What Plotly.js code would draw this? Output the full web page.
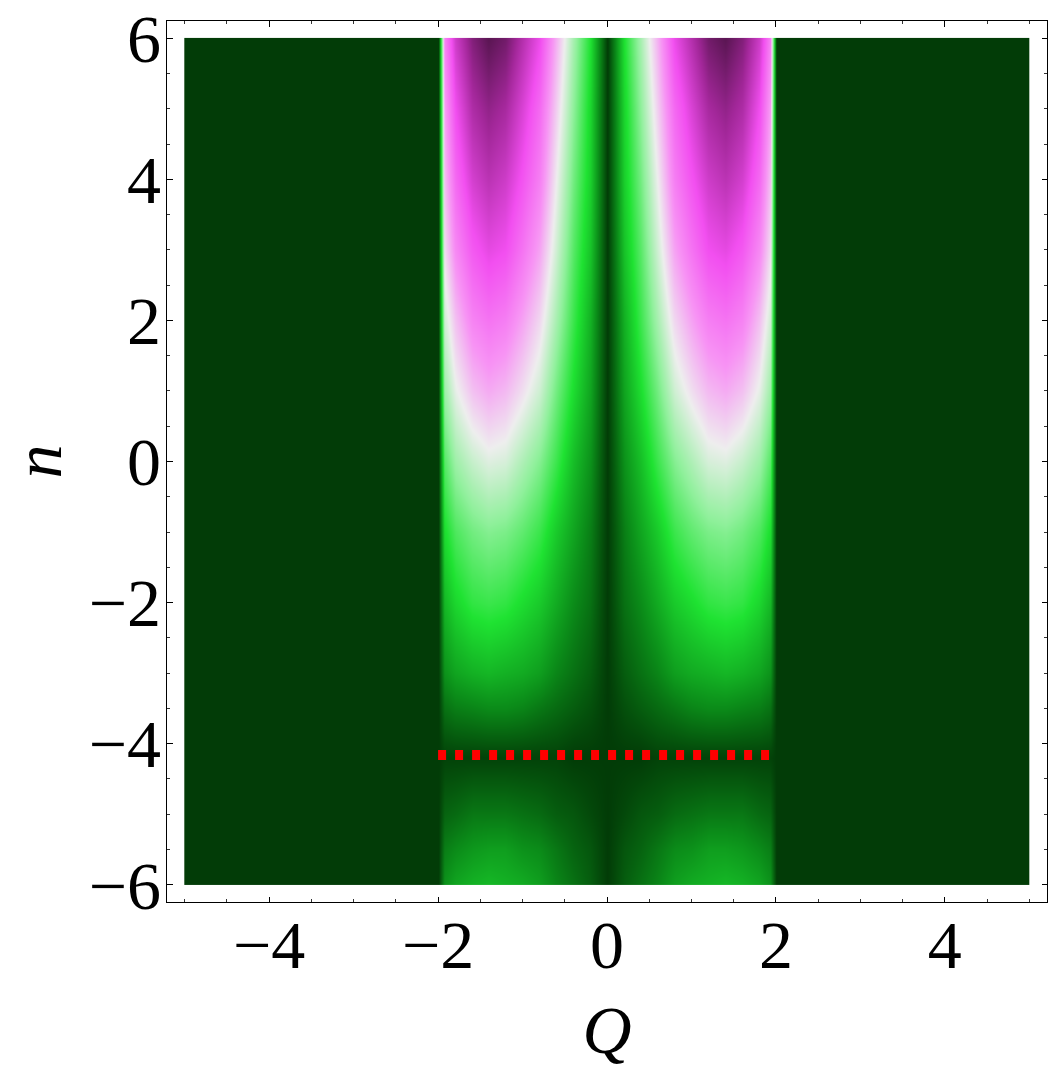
<!DOCTYPE html>
<html>
<head>
<meta charset="utf-8">
<script src="https://cdn.plot.ly/plotly-3.0.1.min.js"></script>
<style>html,body{margin:0;padding:0;background:#fff;}#plot{width:1050px;height:1068px;}</style>
</head>
<body>
<div id="plot"></div>
<script>
// Q grid (columns) and n grid (rows)
const Q = [-5, -4.99, -2.0, -1.93, -1.8, -1.6, -1.4, -1.2, -1.0, -0.8, -0.6, -0.4, -0.2, 0,
           0.2, 0.4, 0.6, 0.8, 1.0, 1.2, 1.4, 1.6, 1.8, 1.93, 2.0, 4.99, 5];
const n = [-6, -5.99, -5.5, -5, -4.2, -3.5, -3, -2, -1, 0, 1, 2, 3, 4, 5, 5.99, 6];
// density values (rows follow n, columns follow Q)
const density = [
 [0,0,0, 0.13,0.16,0.18,0.19,0.18,0.17,0.15,0.11,0.08,0.05, 0, 0.05,0.08,0.11,0.15,0.17,0.18,0.19,0.18,0.16,0.13, 0,0,0],
 [0,0,0, 0.13,0.16,0.18,0.19,0.18,0.17,0.15,0.11,0.08,0.05, 0, 0.05,0.08,0.11,0.15,0.17,0.18,0.19,0.18,0.16,0.13, 0,0,0],
 [0,0,0, 0.10,0.12,0.14,0.15,0.15,0.13,0.12,0.09,0.06,0.04, 0, 0.04,0.06,0.09,0.12,0.13,0.15,0.15,0.14,0.12,0.10, 0,0,0],
 [0,0,0, 0.06,0.07,0.09,0.09,0.09,0.08,0.07,0.05,0.04,0.02, 0, 0.02,0.04,0.05,0.07,0.08,0.09,0.09,0.09,0.07,0.06, 0,0,0],
 [0,0,0, 0.01,0.01,0.01,0.01,0.01,0.01,0.01,0.01,0.00,0.00, 0, 0.00,0.00,0.01,0.01,0.01,0.01,0.01,0.01,0.01,0.01, 0,0,0],
 [0,0,0, 0.08,0.10,0.11,0.12,0.12,0.11,0.09,0.07,0.05,0.03, 0, 0.03,0.05,0.07,0.09,0.11,0.12,0.12,0.11,0.10,0.08, 0,0,0],
 [0,0,0, 0.13,0.16,0.18,0.19,0.18,0.17,0.15,0.11,0.08,0.05, 0, 0.05,0.08,0.11,0.15,0.17,0.18,0.19,0.18,0.16,0.13, 0,0,0],
 [0,0,0, 0.19,0.24,0.28,0.29,0.28,0.25,0.22,0.17,0.12,0.08, 0, 0.08,0.12,0.17,0.22,0.25,0.28,0.29,0.28,0.24,0.19, 0,0,0],
 [0,0,0, 0.25,0.31,0.35,0.37,0.36,0.33,0.29,0.22,0.16,0.10, 0, 0.10,0.16,0.22,0.29,0.33,0.36,0.37,0.35,0.31,0.25, 0,0,0],
 [0,0,0, 0.32,0.40,0.45,0.48,0.47,0.42,0.37,0.29,0.20,0.13, 0, 0.13,0.20,0.29,0.37,0.42,0.47,0.48,0.45,0.40,0.32, 0,0,0],
 [0,0,0, 0.40,0.49,0.56,0.59,0.57,0.52,0.46,0.35,0.25,0.16, 0, 0.16,0.25,0.35,0.46,0.52,0.57,0.59,0.56,0.49,0.40, 0,0,0],
 [0,0,0, 0.46,0.56,0.65,0.68,0.66,0.60,0.53,0.41,0.29,0.18, 0, 0.18,0.29,0.41,0.53,0.60,0.66,0.68,0.65,0.56,0.46, 0,0,0],
 [0,0,0, 0.52,0.64,0.73,0.77,0.75,0.68,0.60,0.46,0.32,0.21, 0, 0.21,0.32,0.46,0.60,0.68,0.75,0.77,0.73,0.64,0.52, 0,0,0],
 [0,0,0, 0.56,0.70,0.80,0.84,0.81,0.74,0.66,0.50,0.35,0.23, 0, 0.23,0.35,0.50,0.66,0.74,0.81,0.84,0.80,0.70,0.56, 0,0,0],
 [0,0,0, 0.60,0.75,0.86,0.90,0.87,0.79,0.70,0.54,0.38,0.24, 0, 0.24,0.38,0.54,0.70,0.79,0.87,0.90,0.86,0.75,0.60, 0,0,0],
 [0,0,0, 0.65,0.81,0.92,0.97,0.94,0.85,0.76,0.58,0.41,0.26, 0, 0.26,0.41,0.58,0.76,0.85,0.94,0.97,0.92,0.81,0.65, 0,0,0],
 [0,0,0, 0.65,0.81,0.92,0.97,0.94,0.85,0.76,0.58,0.41,0.26, 0, 0.26,0.41,0.58,0.76,0.85,0.94,0.97,0.92,0.81,0.65, 0,0,0]
];
// red dotted marker line
const lineQ = [-2.0, 1.98];
const lineN = [-4.16, -4.16];
const xTickVals = [-4, -2, 0, 2, 4];
const yTickVals = [-6, -4, -2, 0, 2, 4, 6];

const colorscale = [
  [0.00, '#023c07'],
  [0.12, '#0b8c19'],
  [0.26, '#1fe332'],
  [0.38, '#8ef09a'],
  [0.50, '#eeeeee'],
  [0.62, '#f794f4'],
  [0.75, '#f24ff0'],
  [0.88, '#a22799'],
  [1.00, '#43103c']
];

const traces = [
  {type: 'heatmap', x: Q, y: n, z: density, zmin: 0, zmax: 1, zsmooth: 'best',
   colorscale: colorscale, showscale: false, hoverinfo: 'skip'},
  {type: 'scatter', mode: 'lines', x: lineQ, y: lineN,
   line: {color: '#ff0000', width: 10, dash: '8px,9px'}, hoverinfo: 'skip'}
];

const serif = '"Times New Roman", "Liberation Serif", Times, serif';
const tickFont = {family: serif, size: 68, color: '#000'};
const axisCommon = {
  showgrid: false, zeroline: false, showline: true, linecolor: '#000', linewidth: 1.3,
  mirror: 'allticks', ticks: 'inside', ticklen: 5.5, tickwidth: 1, tickcolor: '#000',
  tickfont: tickFont,
  minor: {dtick: 0.5, ticks: 'inside', ticklen: 3, tickwidth: 1, tickcolor: '#333', showgrid: false}
};

const layout = {
  width: 1050, height: 1068,
  margin: {l: 167, r: 2.5, t: 21, b: 165.5},
  paper_bgcolor: '#fff', plot_bgcolor: '#fff',
  showlegend: false,
  xaxis: Object.assign({}, axisCommon, {
    range: [-5.21, 5.21], tickvals: xTickVals, ticklabelstandoff: -17,
    title: {text: '<i>Q</i>', font: {family: serif, size: 68, color: '#000'}, standoff: 45}
  }),
  yaxis: Object.assign({}, axisCommon, {
    range: [-6.245, 6.245], tickvals: yTickVals, ticklabelstandoff: -9,
    title: {text: '<i>n</i>', font: {family: serif, size: 68, color: '#000'}, standoff: 37}
  })
};

Plotly.newPlot('plot', traces, layout, {staticPlot: true, displayModeBar: false});
</script>
</body>
</html>
